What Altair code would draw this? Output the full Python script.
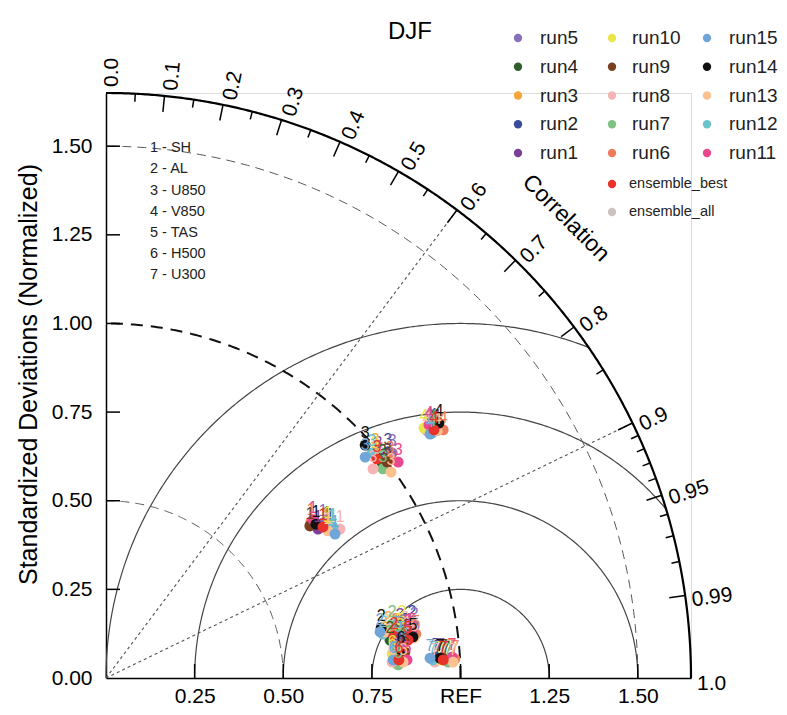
import math
import numpy as np
import pandas as pd
import altair as alt

# ---------------- data ----------------
series = [f"run{i}" for i in range(1, 16)] + ["ensemble_best", "ensemble_all"]
colors = ["#7b3f98", "#3a4b9a", "#f5a53a", "#2f5e2c", "#8a70b8", "#ef7d5b", "#7dc183",
          "#f7b3b3", "#7a3f1f", "#ebe54a", "#e9478e", "#6cc2c9", "#fcc18f", "#111111",
          "#70a5d9", "#e8332b", "#cbc2c0"]
variables = ["SH", "AL", "U850", "V850", "TAS", "H500", "U300"]

# normalized diagram coordinates (std*corr, std*sin), order: run1..run15, best, all
sh_x = [.598, .632, .623, .623, .612, .578, .637, .660, .575, .626, .584, .640, .626, .592, .646, .612, .618]
sh_y = [.420, .426, .423, .432, .437, .440, .423, .420, .429, .432, .446, .426, .415, .434, .406, .426, .426]
al_x = [.829, .863, .795, .801, .869, .818, .807, .843, .824, .835, .852, .781, .787, .776, .773, .812, .807]
al_y = [.144, .152, .135, .107, .147, .130, .152, .135, .124, .152, .127, .124, .130, .141, .130, .118, .130]
u850_x = [.767, .795, .759, .779, .807, .801, .781, .753, .793, .759, .824, .750, .804, .731, .731, .764, .773]
u850_y = [.629, .638, .638, .607, .635, .615, .590, .590, .609, .629, .609, .635, .581, .657, .623, .618, .615]
v850_x = [.914, .922, .908, .917, .911, .951, .925, .905, .931, .897, .911, .920, .934, .939, .914, .925, .920]
v850_y = [.705, .708, .702, .700, .711, .700, .705, .697, .705, .705, .714, .691, .697, .719, .688, .700, .702]
tas_x = [.840, .846, .835, .829, .843, .874, .824, .858, .852, .829, .863, .838, .869, .866, .824, .852, .846]
tas_y = [.124, .130, .118, .113, .127, .124, .113, .118, .113, .130, .130, .107, .113, .116, .121, .107, .118]
h500_x = [.824, .835, .812, .818, .829, .840, .824, .807, .843, .807, .849, .815, .838, .832, .810, .826, .829]
h500_y = [.073, .079, .062, .056, .068, .062, .037, .045, .073, .068, .051, .051, .045, .079, .051, .051, .059]
u300_x = [.937, .931, .970, .959, .945, .984, .965, .928, .951, .942, .976, .922, .979, .942, .914, .951, .959]
u300_y = [.054, .059, .056, .051, .059, .054, .045, .045, .056, .051, .059, .051, .045, .056, .056, .051, .054]

std_ticks = [0.25, 0.5, 0.75, 1.0, 1.25, 1.5]
y_ticks = [0.0, 0.25, 0.5, 0.75, 1.0, 1.25, 1.5]
corr_labels = [0.0, 0.1, 0.2, 0.3, 0.4, 0.5, 0.6, 0.7, 0.8, 0.9, 0.95, 0.99, 1.0]
corr_label_text = ["0.0", "0.1", "0.2", "0.3", "0.4", "0.5", "0.6", "0.7", "0.8", "0.9", "0.95", "0.99", "1.0"]
corr_major = [0.1, 0.2, 0.3, 0.4, 0.5, 0.6, 0.7, 0.8, 0.9, 0.95, 0.99]
corr_minor = [0.05, 0.15, 0.25, 0.35, 0.45, 0.55, 0.65, 0.75, 0.85,
              0.91, 0.92, 0.93, 0.94, 0.96, 0.97, 0.98]
rms_radii = [0.25, 0.5, 0.75, 1.0]
std_dash_thin = [0.5, 1.5]
std_dash_thick = [1.0]
corr_dotted = [0.6, 0.9]

legend_cols = [["run5", "run4", "run3", "run2", "run1"],
               ["run10", "run9", "run8", "run7", "run6"],
               ["run15", "run14", "run13", "run12", "run11"]]
legend_extra = ["ensemble_best", "ensemble_all"]

# ---------------- geometry / layout ----------------
R = 1.65
PPU = 585 / R
OX, OY = 106, 678


def px_x(p):
    return (p - OX) / PPU


def px_y(p):
    return (OY - p) / PPU


FONT = "Liberation Sans"

xs = alt.Scale(domain=[0, R], nice=False, zero=False)
ys = alt.Scale(domain=[0, R], nice=False, zero=False)
xaxis = alt.Axis(values=std_ticks, labelExpr="datum.value == 1 ? 'REF' : format(datum.value, '.2f')",
                 ticks=False, tickSize=0, grid=False, domainColor="black", domainWidth=1.5,
                 labelFontSize=21, labelFont=FONT, labelColor="black", labelPadding=7,
                 labelFlush=False, labelOverlap=False, title=None)
yaxis = alt.Axis(values=y_ticks, format=".2f", ticks=False, tickSize=0, grid=False,
                 domainColor="black", domainWidth=1.5, labelFontSize=21, labelFont=FONT,
                 labelColor="black", labelPadding=14, labelFlush=False, labelOverlap=False,
                 title="Standardized Deviations (Normalized)", titleFont=FONT, titleFontSize=25,
                 titleFontWeight="normal", titleColor="black", titleAngle=270,
                 titleAlign="center", titleBaseline="middle", titleX=-78, titleY=281)
X = alt.X("x:Q", scale=xs, axis=xaxis)
Y = alt.Y("y:Q", scale=ys, axis=yaxis)


def arc_rows(cx, r, t0, t1, gid, n=240):
    t = np.linspace(t0, t1, n)
    return [{"x": cx + r * math.cos(a), "y": r * math.sin(a), "id": gid, "k": i}
            for i, a in enumerate(t)]


rms_rows = []
for i, r in enumerate(rms_radii):
    if 1 + r <= R:
        t0 = 0.0
    else:
        xi = (R ** 2 + 1 - r ** 2) / 2
        yi = math.sqrt(R ** 2 - xi ** 2)
        t0 = math.atan2(yi, xi - 1)
    rms_rows += arc_rows(1.0, r, t0, math.pi, f"rms{i}")
thin_rows = []
for i, r in enumerate(std_dash_thin):
    thin_rows += arc_rows(0.0, r, 0, math.pi / 2, f"s{i}")
thick_rows = []
for i, r in enumerate(std_dash_thick):
    thick_rows += arc_rows(0.0, r, 0, math.pi / 2, f"t{i}")
outer_rows = arc_rows(0.0, R, 0, math.pi / 2, "outer", n=400)


def line_layer(rows, color, width, dash=None):
    kw = dict(color=color, strokeWidth=width, clip=False)
    if dash:
        kw["strokeDash"] = dash
    return alt.Chart(pd.DataFrame(rows)).mark_line(**kw).encode(
        x=X, y=Y, detail="id:N", order="k:Q")


# radial dotted lines
dot_df = pd.DataFrame([{"x": 0.0, "y": 0.0, "x2": R * c, "y2": R * math.sqrt(1 - c * c)}
                       for c in corr_dotted])

# ticks
tick_rows = []
TL = 14 / PPU
for v in std_ticks:
    tick_rows.append({"x": 0.0, "y": v, "x2": TL, "y2": v})
    tick_rows.append({"x": v, "y": 0.0, "x2": v, "y2": TL})
for c, L in [(c, 16 / PPU) for c in corr_major] + [(c, 8 / PPU) for c in corr_minor]:
    s = math.sqrt(1 - c * c)
    tick_rows.append({"x": R * c, "y": R * s, "x2": (R - L) * c, "y2": (R - L) * s})
tick_df = pd.DataFrame(tick_rows)

# correlation labels
RL = R + 6 / PPU
cl_rows = []
for c, t in zip(corr_labels, corr_label_text):
    th = math.acos(c)
    cl_rows.append({"x": RL * math.cos(th), "y": RL * math.sin(th), "t": t,
                    "ang": (360 - math.degrees(th)) % 360})
cl_df = pd.DataFrame(cl_rows)

# points
all_vars = [(sh_x, sh_y), (al_x, al_y), (u850_x, u850_y), (v850_x, v850_y),
            (tas_x, tas_y), (h500_x, h500_y), (u300_x, u300_y)]
draw_order = ["ensemble_all"] + [f"run{i}" for i in range(1, 16)] + ["ensemble_best"]
pt_rows = []
for s in draw_order:
    j = series.index(s)
    for vi, (vx, vy) in enumerate(all_vars):
        pt_rows.append({"x": vx[j], "y": vy[j], "series": s, "num": str(vi + 1)})
pt_df = pd.DataFrame(pt_rows)

color = alt.Color("series:N", scale=alt.Scale(domain=series, range=colors), legend=None)

# variable list
var_df = pd.DataFrame([{"x": px_x(150), "y": px_y(148.3 + 21.1 * i), "t": f"{i + 1} - {v}"}
                       for i, v in enumerate(variables)])

# legend
leg_dot_x = [518, 612, 707]
leg_txt_x = [540, 632, 729]
leg_rows = []
for ci, col in enumerate(legend_cols):
    for ri, s in enumerate(col):
        py = 38 + 28.75 * ri
        leg_rows.append({"dx": px_x(leg_dot_x[ci]), "tx": px_x(leg_txt_x[ci]), "y": px_y(py),
                         "series": s, "fs": 19})
for ri, s in enumerate(legend_extra):
    py = 184 + 28 * ri
    leg_rows.append({"dx": px_x(612), "tx": px_x(629), "y": px_y(py), "series": s, "fs": 14.5})
leg_df = pd.DataFrame(leg_rows)
leg_df["x"] = leg_df["dx"]

misc_df = pd.DataFrame([
    {"x": px_x(410), "y": px_y(32), "t": "DJF", "fs": 24},
])
corr_title_df = pd.DataFrame([{"x": 1.835 * math.cos(math.radians(45)),
                               "y": 1.835 * math.sin(math.radians(45)),
                               "t": "Correlation"}])

layers = [
    line_layer(rms_rows, "#444444", 1.2),
    line_layer(thin_rows, "#555555", 1.0, [9, 6]),
    line_layer(thick_rows, "#111111", 2.0, [12, 8]),
    alt.Chart(dot_df).mark_rule(color="#555555", strokeWidth=1.1, strokeDash=[3, 3]).encode(
        x=X, y=Y, x2="x2:Q", y2="y2:Q"),
    line_layer(outer_rows, "black", 2.2),
    alt.Chart(tick_df).mark_rule(color="black", strokeWidth=1.5).encode(
        x=X, y=Y, x2="x2:Q", y2="y2:Q"),
    alt.Chart(cl_df).mark_text(align="left", baseline="middle", fontSize=21, font=FONT,
                               color="black", dy=6).encode(
        x=X, y=Y, text="t:N", angle=alt.Angle("ang:Q", scale=None)),
    alt.Chart(corr_title_df).mark_text(align="center", baseline="middle", fontSize=23,
                                       font=FONT, color="black", angle=45).encode(
        x=X, y=Y, text="t:N"),
    alt.Chart(var_df).mark_text(align="left", baseline="middle", fontSize=14.5, font=FONT,
                                color="#222222").encode(x=X, y=Y, text="t:N"),
    alt.Chart(pt_df).mark_circle(size=120, opacity=1).encode(x=X, y=Y, color=color),
    alt.Chart(pt_df).mark_text(align="center", baseline="middle", fontSize=16, font=FONT,
                               dy=-12).encode(x=X, y=Y, text="num:N", color=color),
    alt.Chart(leg_df).mark_circle(size=70, opacity=1).encode(x=X, y=Y, color=color),
    alt.Chart(leg_df).mark_text(align="left", baseline="middle", font=FONT,
                                color="#222222").encode(
        x=alt.X("tx:Q", scale=xs, axis=xaxis), y=Y, text="series:N",
        size=alt.Size("fs:Q", scale=None)),
    alt.Chart(misc_df).mark_text(align="center", baseline="middle", font=FONT,
                                 color="black").encode(
        x=X, y=Y, text="t:N", size=alt.Size("fs:Q", scale=None)),
]

chart = alt.layer(*layers).properties(
    width=585, height=585,
    autosize=alt.AutoSizeParams(type="none"),
    padding={"left": 98, "top": 85, "right": 88, "bottom": 29},
    background="white",
).configure_view(strokeWidth=0).configure(font=FONT)

chart.save("out.html", embed_options={"renderer": "svg", "actions": False})
